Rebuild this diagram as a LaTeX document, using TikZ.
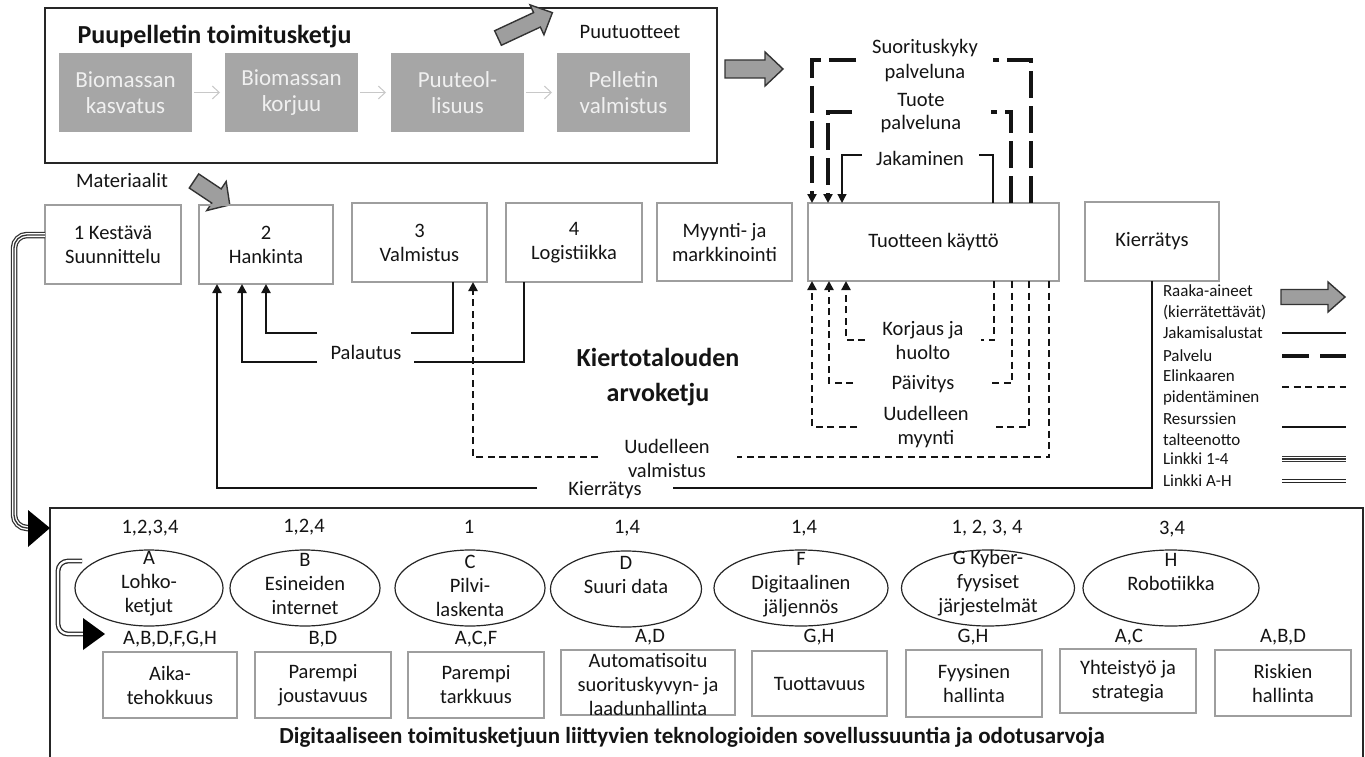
\documentclass[tikz,border=0pt]{standalone}
\usepackage{fontspec}
\setmainfont{Carlito}
\usetikzlibrary{shapes.geometric,arrows.meta}
\definecolor{boxgray}{RGB}{158,158,158}
\definecolor{grayfill}{RGB}{166,166,166}
\definecolor{arrowgray}{RGB}{158,158,158}
\definecolor{lightarr}{RGB}{200,200,200}
\definecolor{ink}{RGB}{20,20,20}
\begin{document}
\begin{tikzpicture}[x=1pt,y=-1pt,
  every node/.style={inner sep=0pt,outer sep=0pt,text=ink},
  t20/.style={font=\fontsize{20.5}{24}\selectfont,align=center},
  t17/.style={font=\fontsize{17}{21}\selectfont,align=left,anchor=west},
  wbox/.style={draw=boxgray,line width=1.4pt,t20},
  gbox/.style={fill=grayfill,text=white!94!black,font=\fontsize{23}{26}\selectfont,align=center,minimum width=133pt,minimum height=79pt},
  blockarr/.style={draw=black!80,fill=arrowgray,line width=1.4pt,line join=miter},
  ell/.style={ellipse,draw=black!85,line width=1.2pt,minimum height=76pt},
  rbox/.style={draw=boxgray,line width=1.4pt,t20},
  res/.style={line width=2.7pt,draw=ink,line cap=butt},
  elin/.style={line width=2.7pt,draw=ink,dash pattern=on 7pt off 4.5pt},
  palv/.style={line width=3.2pt,draw=ink,dash pattern=on 27pt off 8pt},
  jak/.style={line width=1.2pt,draw=ink},
  tip/.style={-{Triangle[length=9pt,width=9pt]}},
  triple/.style={line width=6.5pt,draw=black!80},
  tripleinner/.style={line width=4pt,draw=white},
  triplecore/.style={line width=1.3pt,draw=black!80},
  dbl/.style={double=white,double distance=2.2pt,line width=1.3pt,draw=black!85},
  garrow/.style={draw=lightarr,line width=1pt,-{Straight Barb[length=7pt,width=13pt]}}
]
\useasboundingbox (0,0) rectangle (1365,757);

% ---------- top supply chain box ----------
\node[draw=black!85,line width=1.8pt,minimum width=672pt,minimum height=155pt] (top) at (381,85.5) {};
\node[font=\bfseries\fontsize{26}{30}\selectfont] (ttl) at (214.5,37) {Puupelletin toimitusketju};
\node[gbox] (g1) at (125.5,92.5) {Biomassan\\kasvatus};
\node[gbox] (g2) at (291.5,92.5) {Biomassan\\korjuu};
\node[gbox] (g3) at (457.5,92.5) {Puuteol-\\lisuus};
\node[gbox] (g4) at (623.5,92.5) {Pelletin\\valmistus};
\draw[garrow,shorten <=2pt,shorten >=5pt] (g1) -- (g2);
\draw[garrow,shorten <=2pt,shorten >=5pt] (g2) -- (g3);
\draw[garrow,shorten <=2pt,shorten >=5pt] (g3) -- (g4);
% block arrow to Puutuotteet
\begin{scope}[shift={(498,38)},rotate=25]
  \draw[blockarr] (0,-8) -- (43,-8) -- (43,-16.5) -- (60,0) -- (43,16.5) -- (43,8) -- (0,8) -- cycle;
\end{scope}
\node[t20] (puut) at (630,32) {Puutuotteet};
% big arrow towards service loops
\begin{scope}[shift={(725,69)}]
  \draw[blockarr] (0,-9) -- (40,-9) -- (40,-17) -- (58,0) -- (40,17) -- (40,9) -- (0,9) -- cycle;
\end{scope}
\node[t20] (mat) at (122,180) {Materiaalit};
\begin{scope}[shift={(194,181)},rotate=-33.7]
  \draw[blockarr] (0,-8.5) -- (27,-8.5) -- (27,-17.5) -- (43,0) -- (27,17.5) -- (27,8.5) -- (0,8.5) -- cycle;
\end{scope}

% ---------- value chain boxes ----------
\node[wbox,minimum width=136pt,minimum height=79pt] (b1) at (113,244.5) {1 Kestävä\\Suunnittelu};
\node[wbox,minimum width=134pt,minimum height=79pt] (b2) at (266,244.5) {2\\Hankinta};
\node[wbox,minimum width=135pt,minimum height=79pt] (b3) at (419.5,242.5) {3\\Valmistus};
\node[wbox,minimum width=136pt,minimum height=79pt] (b4) at (574,242.5) {4\\Logistiikka};
\node[wbox,minimum width=135pt,minimum height=78pt] (b5) at (724.5,242) {Myynti- ja\\markkinointi};
\node[wbox,minimum width=251pt,minimum height=78pt] (tk) at (933.5,242) {Tuotteen käyttö};
\node[wbox,minimum width=134pt,minimum height=79pt] (kb) at (1152,241.5) {Kierrätys};

\node[font=\bfseries\fontsize{26}{35}\selectfont,align=center] (kta) at (658,377.5) {Kiertotalouden\\arvoketju};

% ---------- Palautus ----------
\node[t20] (pal) at (366,352) {Palautus};
\coordinate (p1l) at (317,333); \coordinate (p1r) at (411,333);
\coordinate (p2l) at (317,362); \coordinate (p2r) at (414,362);
\draw[res] (p1r) -| ([xshift=33.5pt]b3.south);
\draw[res,tip] (p1l) -| (b2.south);
\draw[res] (p2r) -| ([xshift=-50pt]b4.south);
\draw[res,tip] (p2l) -| ([xshift=-24pt]b2.south);

% ---------- Kierrätys loop ----------
\node[t20] (kier) at (605,490) {Kierrätys};
\coordinate (k1r) at (673,488); \coordinate (k1l) at (537,488);
\draw[res] (kb.south) |- (k1r);
\draw[res,tip] (k1l) -| ([xshift=-49pt]b2.south);

% ---------- Uudelleen valmistus ----------
\node[t20] (uval) at (667,458.5) {Uudelleen\\valmistus};
\coordinate (uv1) at (737,457); \coordinate (uv2) at (598,457);
\draw[elin] ([xshift=115.5pt]tk.south) |- (uv1);
\draw[elin,tip] (uv2) -| ([xshift=53.5pt]b3.south);

% ---------- below product use ----------
\node[t20] (korj) at (923,341) {Korjaus ja\\huolto};
\coordinate (kh1) at (981,340); \coordinate (kh2) at (865,340);
\draw[elin] ([xshift=60.5pt]tk.south) |- (kh1);
\draw[elin,tip] (kh2) -| ([xshift=-87.5pt]tk.south);
\node[t20] (paiv) at (923,384) {Päivitys};
\coordinate (pv1) at (992,383); \coordinate (pv2) at (853,383);
\draw[elin] ([xshift=78.5pt]tk.south) |- (pv1);
\draw[elin,tip] (pv2) -| ([xshift=-104.5pt]tk.south);
\node[t20] (umyy) at (926,427.5) {Uudelleen\\myynti};
\coordinate (um1) at (994,427); \coordinate (um2) at (857,427);
\draw[elin] ([xshift=95.5pt]tk.south) |- (um1);
\draw[elin,tip] (um2) -| ([xshift=-121.5pt]tk.south);

% ---------- above product use ----------
\node[t20,font=\fontsize{20.5}{25}\selectfont] (suor) at (925,60.5) {Suorituskyky\\palveluna};
\coordinate (sp1) at (993,60); \coordinate (sp2) at (856,60);
\draw[palv] ([xshift=97.5pt]tk.north) |- (sp1);
\draw[palv,tip] (sp2) -| ([xshift=-121.5pt]tk.north);
\node[t20,font=\fontsize{20.5}{23}\selectfont] (tuot) at (921,113.5) {Tuote\\palveluna};
\coordinate (tp1) at (991,112); \coordinate (tp2) at (852,112);
\draw[palv] ([xshift=77.5pt]tk.north) |- (tp1);
\draw[palv,tip] (tp2) -| ([xshift=-105.5pt]tk.north);
\node[t20] (jaka) at (920,158) {Jakaminen};
\coordinate (jk1) at (979,155); \coordinate (jk2) at (862,155);
\draw[jak] ([xshift=59.5pt]tk.north) |- (jk1);
\draw[jak,tip] (jk2) -| ([xshift=-91.5pt]tk.north);

% ---------- legend ----------
\node[t17] (l1) at (1163,302.5) {Raaka-aineet\\(kierrätettävät)};
\begin{scope}[shift={(1281,297)}]
  \draw[blockarr] (0,-7.5) -- (47,-7.5) -- (47,-15) -- (64,0) -- (47,15) -- (47,7.5) -- (0,7.5) -- cycle;
\end{scope}
\node[t17] (l2) at (1163,333) {Jakamisalustat};
\coordinate (l2a) at (1282,333); \coordinate (l2b) at (1346,333);
\draw[jak] (l2a) -- (l2b);
\node[t17] (l3) at (1163,356) {Palvelu};
\coordinate (l3a) at (1282,356); \coordinate (l3b) at (1346,356);
\draw[palv,dash pattern=on 27pt off 11pt] (l3a) -- (l3b);
\node[t17] (l4) at (1163,387) {Elinkaaren\\pidentäminen};
\coordinate (l4a) at (1282,387); \coordinate (l4b) at (1346,387);
\draw[elin] (l4a) -- (l4b);
\node[t17] (l5) at (1163,429.5) {Resurssien\\talteenotto};
\coordinate (l5a) at (1282,427); \coordinate (l5b) at (1346,427);
\draw[res] (l5a) -- (l5b);
\node[t17] (l6) at (1163,459) {Linkki 1-4};
\coordinate (l6a) at (1282,459); \coordinate (l6b) at (1346,459);
\draw[triple] (l6a) -- (l6b);
\draw[tripleinner] (l6a) -- (l6b);
\draw[triplecore] (l6a) -- (l6b);
\node[t17] (l7) at (1163,481) {Linkki A-H};
\coordinate (l7a) at (1282,481); \coordinate (l7b) at (1346,481);
\draw[dbl] (l7a) -- (l7b);

% ---------- bottom section ----------
\coordinate (bbl) at (50,760); \coordinate (btl) at (50,508);
\coordinate (btr) at (1363,508); \coordinate (bbr) at (1363,760);
\draw[line width=2pt,draw=black!85] (bbl) -- (btl) -- (btr) -- (bbr);

\node[ell,minimum width=148pt] (eA) at (149,588) {};
\node[ell,minimum width=150pt] (eB) at (305,588) {};
\node[ell,minimum width=150pt] (eC) at (470,588) {};
\node[ell,minimum width=151pt] (eD) at (626,589) {};
\node[ell,minimum width=174pt] (eF) at (801,588) {};
\node[ell,minimum width=173pt] (eG) at (988,588) {};
\node[ell,minimum width=176pt] (eH) at (1171,588) {};
\node[t20] (tA) at (149,584) {A\\Lohko-\\ketjut};
\node[t20] (tB) at (305,584) {B\\Esineiden\\internet};
\node[t20] (tC) at (470,585.5) {C\\Pilvi-\\laskenta};
\node[t20] (tD) at (626,574.5) {D\\Suuri data};
\node[t20] (tF) at (801,584.5) {F\\Digitaalinen\\jäljennös};
\node[t20] (tG) at (988,583.5) {G Kyber-\\fyysiset\\järjestelmät};
\node[t20] (tH) at (1171,571.5) {H\\Robotiikka};

\node[t20] (nA) at (150,528) {1,2,3,4};
\node[t20] (nB) at (304,527) {1,2,4};
\node[t20] (nC) at (469,527) {1};
\node[t20] (nD) at (627,528) {1,4};
\node[t20] (nF) at (804,528) {1,4};
\node[t20] (nG) at (987,528) {1, 2, 3, 4};
\node[t20] (nH) at (1172,529) {3,4};

\node[rbox,minimum width=134pt,minimum height=66pt] (r1) at (170,685) {Aika-\\tehokkuus};
\node[rbox,minimum width=136pt,minimum height=66pt] (r2) at (323,685) {Parempi\\joustavuus};
\node[rbox,minimum width=136pt,minimum height=66pt] (r3) at (476,685) {Parempi\\tarkkuus};
\node[rbox,minimum width=174pt,minimum height=65pt] (r4) at (648,682.5) {};
\node[t20] (r4t) at (648,684) {Automatisoitu\\suorituskyvyn- ja\\laadunhallinta};
\node[rbox,minimum width=135pt,minimum height=65pt] (r5) at (819.5,683.5) {Tuottavuus};
\node[rbox,minimum width=136pt,minimum height=67pt] (r6) at (974,683.5) {Fyysinen\\hallinta};
\node[rbox,minimum width=136pt,minimum height=64pt] (r7) at (1128,681) {Yhteistyö ja\\strategia};
\node[rbox,minimum width=136pt,minimum height=66pt] (r8) at (1283,683) {Riskien\\hallinta};

\node[t20] (s1) at (170,639) {A,B,D,F,G,H};
\node[t20] (s2) at (323,639) {B,D};
\node[t20] (s3) at (476,639) {A,C,F};
\node[t20] (s4) at (650,637) {A,D};
\node[t20] (s5) at (819,637) {G,H};
\node[t20] (s6) at (973,637) {G,H};
\node[t20] (s7) at (1129,637) {A,C};
\node[t20] (s8) at (1283,637) {A,B,D};

\node[font=\bfseries\fontsize{23}{27}\selectfont] (btitle) at (692,737) {Digitaaliseen toimitusketjuun liittyvien teknologioiden sovellussuuntia ja odotusarvoja};

% ---------- link 1-4 (triple) ----------
\coordinate (lk1) at (30,528);
\draw[triple,rounded corners=13pt] ([yshift=9.5pt]b1.west) -| (14,400) |- (lk1);
\draw[tripleinner,rounded corners=13pt] ([yshift=9.5pt]b1.west) -| (14,400) |- (lk1);
\draw[triplecore,rounded corners=13pt] ([yshift=9.5pt]b1.west) -| (14,400) |- (lk1);
\coordinate (lk1t) at (50,528);
\fill[black] (28,510) -- (lk1t) -- (28,547) -- cycle;

% ---------- link A-H (double) ----------
\coordinate (lk2) at (85,634);
\draw[dbl,rounded corners=10pt] ([xshift=7pt,yshift=27pt]eA.west) -| (58,600) |- (lk2);
\coordinate (lk2t) at (105,634);
\fill[black] (83,618) -- (lk2t) -- (83,650) -- cycle;
\end{tikzpicture}
\end{document}
